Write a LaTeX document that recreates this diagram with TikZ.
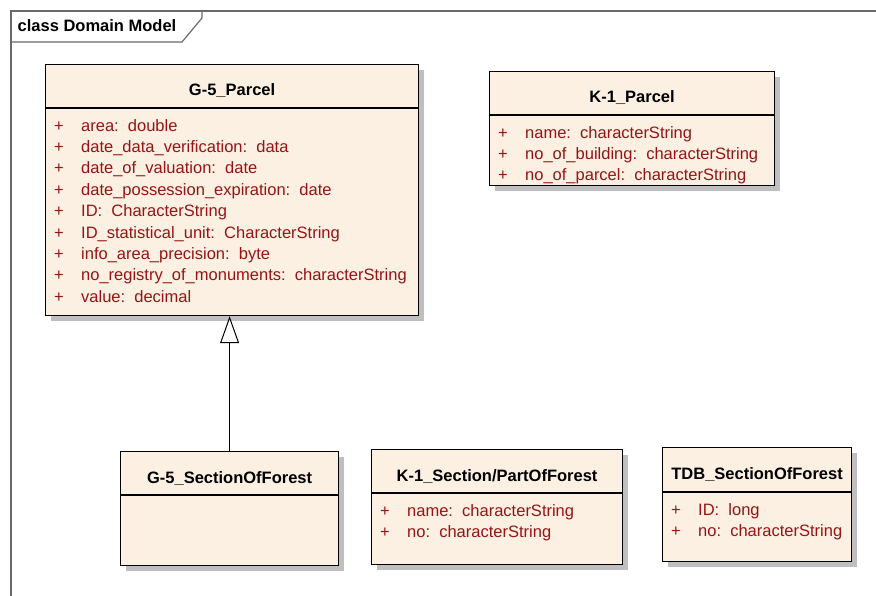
\documentclass[tikz,border=0pt]{standalone}
\usepackage{fontspec}
\setmainfont{Liberation Sans}
\usetikzlibrary{arrows.meta,shadows}

\definecolor{classfill}{RGB}{251,240,226}
\definecolor{attrred}{RGB}{150,20,20}
\definecolor{framegray}{RGB}{105,105,105}

\newcommand{\umlplus}{\makebox[27pt][l]{+}}

\tikzstyle{classbox}=[draw, line width=1.2pt, fill=classfill, anchor=north west, inner sep=0pt, drop shadow={shadow xshift=5pt, shadow yshift=-5pt, fill=black!25, opacity=1}]
\tikzstyle{classname}=[anchor=base, inner sep=0pt, font=\bfseries\fontsize{16.5}{20}\selectfont]
\tikzstyle{attrs}=[anchor=north west, align=left, inner sep=0pt, text=attrred, font=\fontsize{16.5}{21.4}\selectfont]
\tikzstyle{divider}=[line width=1.2pt]
\tikzstyle{generalize}=[line width=1pt, -{Triangle[length=27pt, width=19pt, fill=white]}]

\begin{document}
\begin{tikzpicture}[x=1pt, y=-1pt]
      \useasboundingbox (0,0) rectangle (876,596);

      % diagram frame
      \draw[framegray, line width=1.2pt] (11,596) -- (11,11) -- (876,11);
      \draw[framegray, line width=1.2pt] (11,42) -- (182,42) -- (202,18) -- (202,11);
      \node[anchor=base west, inner sep=0pt, font=\bfseries\fontsize{16.5}{20}\selectfont] (frametitle) at (17.5,31.5) {class Domain Model};

      % classes
      \node[classbox, minimum width=373pt, minimum height=251pt] (g5parcel) at (45,64) {};
      \node[classname] (g5parcelname) at ([yshift=-32pt]g5parcel.north) {G-5\_Parcel};
      \draw[divider] ([yshift=-44pt]g5parcel.north west) -- ([yshift=-44pt]g5parcel.north east);
      \node[attrs] (g5parcelattrs) at ([xshift=9pt, yshift=-55pt]g5parcel.north west)
        {\umlplus area:\ \ double\\
         \umlplus date\_data\_verification:\ \ data\\
         \umlplus date\_of\_valuation:\ \ date\\
         \umlplus date\_possession\_expiration:\ \ date\\
         \umlplus ID:\ \ CharacterString\\
         \umlplus ID\_statistical\_unit:\ \ CharacterString\\
         \umlplus info\_area\_precision:\ \ byte\\
         \umlplus no\_registry\_of\_monuments:\ \ characterString\\
         \umlplus value:\ \ decimal};

      \node[classbox, minimum width=285pt, minimum height=114pt] (k1parcel) at (489,71) {};
      \node[classname] (k1parcelname) at ([yshift=-32pt]k1parcel.north) {K-1\_Parcel};
      \draw[divider] ([yshift=-44pt]k1parcel.north west) -- ([yshift=-44pt]k1parcel.north east);
      \node[attrs] (k1parcelattrs) at ([xshift=9pt, yshift=-55pt]k1parcel.north west)
        {\umlplus name:\ \ characterString\\
         \umlplus no\_of\_building:\ \ characterString\\
         \umlplus no\_of\_parcel:\ \ characterString};

      \node[classbox, minimum width=218pt, minimum height=114pt] (g5forest) at (120,451) {};
      \node[classname] (g5forestname) at ([yshift=-32pt]g5forest.north) {G-5\_SectionOfForest};
      \draw[divider] ([yshift=-44pt]g5forest.north west) -- ([yshift=-44pt]g5forest.north east);

      \node[classbox, minimum width=251pt, minimum height=115pt] (k1forest) at (371,449) {};
      \node[classname] (k1forestname) at ([yshift=-32pt]k1forest.north) {K-1\_Section/PartOfForest};
      \draw[divider] ([yshift=-44pt]k1forest.north west) -- ([yshift=-44pt]k1forest.north east);
      \node[attrs] (k1forestattrs) at ([xshift=9pt, yshift=-55pt]k1forest.north west)
        {\umlplus name:\ \ characterString\\
         \umlplus no:\ \ characterString};

      \node[classbox, minimum width=189pt, minimum height=114pt] (tdbforest) at (662,447) {};
      \node[classname] (tdbforestname) at ([yshift=-32pt]tdbforest.north) {TDB\_SectionOfForest};
      \draw[divider] ([yshift=-45pt]tdbforest.north west) -- ([yshift=-45pt]tdbforest.north east);
      \node[attrs] (tdbforestattrs) at ([xshift=9pt, yshift=-56pt]tdbforest.north west)
        {\umlplus ID:\ \ long\\
         \umlplus no:\ \ characterString};

      % generalization
      \draw[generalize] (g5forest) -- (g5forest |- g5parcel.south);
    \end{tikzpicture}
\end{document}
